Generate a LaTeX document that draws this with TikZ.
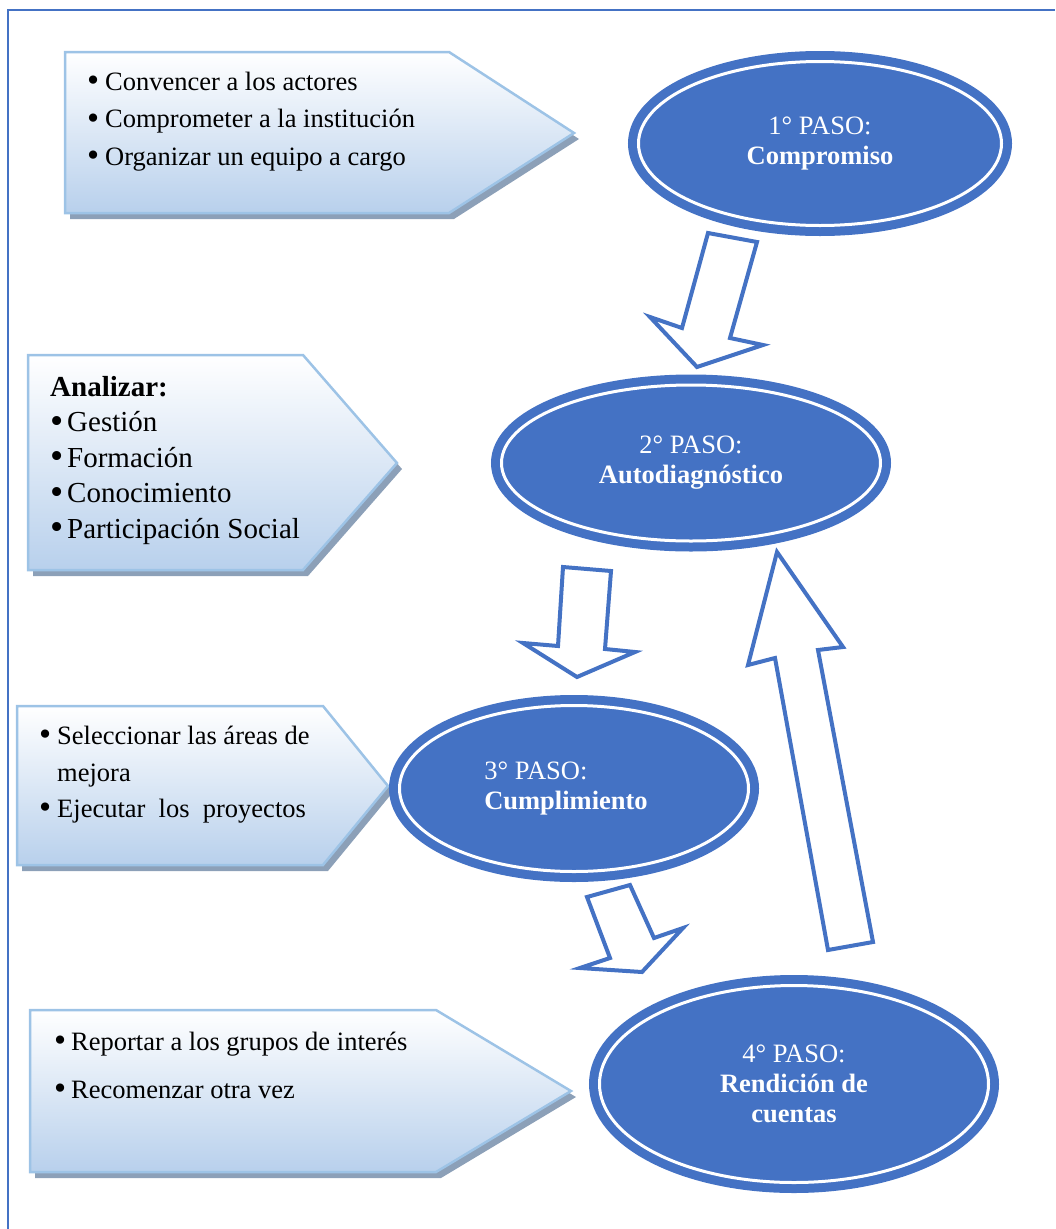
\documentclass[tikz,border=0pt]{standalone}
\usepackage{fontspec}
\setmainfont{Liberation Serif}
\usetikzlibrary{shapes.geometric}
\definecolor{azulpaso}{RGB}{68,114,196}
\definecolor{bordecaja}{RGB}{157,195,230}
\definecolor{fondocaja}{RGB}{184,208,236}
\definecolor{sombracaja}{RGB}{140,160,184}
\newcommand{\vineta}[1]{\makebox[#1][l]{\raisebox{-0.06em}{\scalebox{1.3}{•}}}}

\begin{document}
\begin{tikzpicture}[x=1pt,y=-1pt,
  paso/.style={ellipse,fill=azulpaso,draw=azulpaso,line width=9pt,double=white,double distance=3pt,
    text=white,align=center,inner sep=0pt,outer sep=0pt,font=\fontsize{26.5}{30}\selectfont},
  caja/.style={draw=bordecaja,line width=2.5pt,top color=white,bottom color=fondocaja,line join=miter},
  sombra/.style={fill=sombracaja,shift={(5,6)}},
  linea/.style={anchor=base west,inner sep=0pt,font=\fontsize{26.5}{30}\selectfont},
  flecha/.style={draw=azulpaso,fill=white,line width=4pt,line join=miter}]
\useasboundingbox (0,0) rectangle (1055,1229);
\draw[azulpaso,line width=2pt] (8,1229) -- (8,10) -- (1055,10);

% cajas
\fill[sombra] (65,52) -- (449,52) -- (574,133) -- (449,213) -- (65,213) -- cycle;
\path[caja] (65,52) -- (449,52) -- (574,133) -- (449,213) -- (65,213) -- cycle;
\fill[sombra] (28,355) -- (303,355) -- (397,463) -- (303,570) -- (28,570) -- cycle;
\path[caja] (28,355) -- (303,355) -- (397,463) -- (303,570) -- (28,570) -- cycle;
\fill[sombra] (17,706) -- (323,706) -- (388,786) -- (323,865) -- (17,865) -- cycle;
\path[caja] (17,706) -- (323,706) -- (388,786) -- (323,865) -- (17,865) -- cycle;
\fill[sombra] (30,1010) -- (436,1010) -- (571,1091) -- (436,1172) -- (30,1172) -- cycle;
\path[caja] (30,1010) -- (436,1010) -- (571,1091) -- (436,1172) -- (30,1172) -- cycle;

\foreach \t [count=\i] in {Convencer a los actores,Comprometer a la instituci\'on,Organizar un equipo a cargo}
  \node[linea] (uno\i) at (87,{90+37.5*(\i-1)}) {\vineta{18pt}\t};

\node[linea,font=\fontsize{29}{32}\selectfont\bfseries] (analizar) at (50,396) {Analizar:};
\foreach \t [count=\i] in {Gesti\'on,Formaci\'on,Conocimiento,Participaci\'on Social}
  \node[linea,font=\fontsize{29}{32}\selectfont] (dos\i) at (50,{396+35.5*\i}) {\vineta{17pt}\t};

\node[linea] (tres1) at (39,744) {\vineta{18pt}Seleccionar las \'areas de};
\node[linea] (tres2) at (57,781) {mejora};
\node[linea] (tres3) at (39,817) {\vineta{18pt}Ejecutar\ \ los\ \ proyectos};

\node[linea] (cuatro1) at (54,1050) {\vineta{17pt}Reportar a los grupos de inter\'es};
\node[linea] (cuatro2) at (54,1098) {\vineta{17pt}Recomenzar otra vez};

% flechas
\draw[flecha] (708,233) -- (757,242) -- (730,338) -- (763,345) -- (697,367) -- (650,317) -- (682,328) -- cycle;
\draw[flecha] (563,567) -- (611,571) -- (605,649) -- (635,652) -- (577,677) -- (523,643) -- (558,646) -- cycle;
\draw[flecha] (587,897) -- (630,885) -- (654,938) -- (683,928) -- (642,972) -- (580,968) -- (610,958) -- cycle;
\draw[flecha] (828,950) -- (873,942) -- (818,650) -- (843,647) -- (777,552) -- (748,665) -- (775,658) -- cycle;

% pasos
\node[paso,minimum width=363pt,minimum height=164pt] (paso1) at (820,143.5) {1° PASO:\\\textbf{Compromiso}};
\node[paso,minimum width=379pt,minimum height=156pt] (paso2) at (691,463) {2° PASO:\\\textbf{Autodiagn\'ostico}};
\node[paso,align=left,minimum width=349pt,minimum height=166pt] (paso3) at (574,788.5) {3° PASO:\\\textbf{Cumplimiento}\rule{16pt}{0pt}};
\node[paso,minimum width=389pt,minimum height=197pt] (paso4) at (794,1084) {4° PASO:\\\textbf{Rendici\'on de}\\\textbf{cuentas}};
\end{tikzpicture}
\end{document}
